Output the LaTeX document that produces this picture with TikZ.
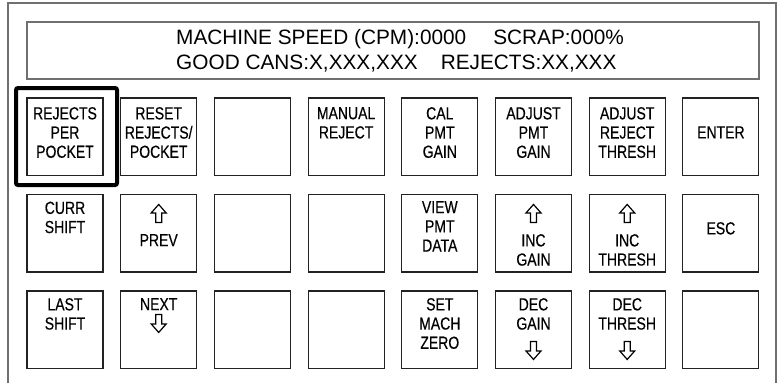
\documentclass[tikz,border=0pt]{standalone}
\usepackage{fontspec}
\setmainfont{Liberation Sans}
\newfontfamily\narrowfont[FakeStretch=0.8,FakeBold=0.35]{Liberation Sans}
\definecolor{framegray}{HTML}{707070}
\definecolor{btnline}{HTML}{222222}
\tikzset{
  framesty/.style={draw=framegray, line width=1.3pt},
  btn/.style={draw=btnline, line width=1.1pt, minimum width=76pt, minimum height=77.5pt, inner sep=0pt, fill=white},
  lbl/.style={font=\narrowfont\fontsize{17.5}{19.2}\selectfont, align=center, inner sep=0pt, anchor=north, text=black},
  dispbox/.style={draw=framegray, line width=1.3pt, minimum width=732pt, minimum height=57pt, inner sep=0pt},
  disptext/.style={font=\fontsize{20.8}{25}\selectfont, align=left, inner sep=0pt, text=black, anchor=west},
  selbox/.style={draw=black, line width=4pt, rounded corners=2pt},
  arrowsty/.style={draw=black, line width=1.2pt, fill=white, line join=miter},
  uparr/.pic={\path[arrowsty] (0pt,9pt) -- (7.5pt,0.5pt) -- (3pt,0.5pt) -- (3pt,-9pt) -- (-3pt,-9pt) -- (-3pt,0.5pt) -- (-7.5pt,0.5pt) -- cycle;},
  downarr/.pic={\path[arrowsty] (0pt,-9pt) -- (7.5pt,-0.5pt) -- (3pt,-0.5pt) -- (3pt,9pt) -- (-3pt,9pt) -- (-3pt,-0.5pt) -- (-7.5pt,-0.5pt) -- cycle;}
}
\begin{document}
\begin{tikzpicture}[x=1pt,y=-1pt]
\useasboundingbox (0,0) rectangle (778,383);
\fill[white] (0,0) rectangle (778,383);
% outer frame (open at bottom)
\draw[framesty] (8,383) -- (8,3) -- (776,3) -- (776,383);
% display
\node[dispbox] (disp) at (393,50.5) {};
\node[disptext] (dtext) at (176,50.5) {MACHINE SPEED (CPM):0000\hspace{27pt}SCRAP:000\%\\GOOD CANS:X,XXX,XXX\hspace{23pt}REJECTS:XX,XXX};
% selection frame
\draw[selbox] (16,88) rectangle (117,185);
% buttons
\foreach \r/\ry in {1/98,2/194.5,3/291}{
  \foreach \c in {1,...,8}{
    \node[btn] (b\r\c) at ({27+93.7*(\c-1)+38},{\ry+38.75}) {};
  }
}
% row 1
\node[lbl] (t11) at ([yshift=-9.5pt]b11.north) {REJECTS\\PER\\POCKET};
\node[lbl] (t12) at ([yshift=-9.5pt]b12.north) {RESET\\REJECTS/\\POCKET};
\node[lbl] (t14) at ([yshift=-9.5pt]b14.north) {MANUAL\\REJECT};
\node[lbl] (t15) at ([yshift=-9.5pt]b15.north) {CAL\\PMT\\GAIN};
\node[lbl] (t16) at ([yshift=-9.5pt]b16.north) {ADJUST\\PMT\\GAIN};
\node[lbl] (t17) at ([yshift=-9.5pt]b17.north) {ADJUST\\REJECT\\THRESH};
\node[lbl] (t18) at ([yshift=-28.7pt]b18.north) {ENTER};
% row 2
\node[lbl] (t21) at ([yshift=-7.5pt]b21.north) {CURR\\SHIFT};
\pic at ([yshift=-19.5pt]b22.north) {uparr};
\node[lbl] (t22) at ([yshift=-40pt]b22.north) {PREV};
\node[lbl] (t25) at ([yshift=-7pt]b25.north) {VIEW\\PMT\\DATA};
\pic at ([yshift=-19.5pt]b26.north) {uparr};
\node[lbl] (t26) at ([yshift=-40pt]b26.north) {INC\\GAIN};
\pic at ([yshift=-19.5pt]b27.north) {uparr};
\node[lbl] (t27) at ([yshift=-40pt]b27.north) {INC\\THRESH};
\node[lbl] (t28) at ([yshift=-28pt]b28.north) {ESC};
% row 3
\node[lbl] (t31) at ([yshift=-7.5pt]b31.north) {LAST\\SHIFT};
\node[lbl] (t32) at ([yshift=-7.5pt]b32.north) {NEXT};
\pic at ([yshift=-33pt]b32.north) {downarr};
\node[lbl] (t35) at ([yshift=-7.5pt]b35.north) {SET\\MACH\\ZERO};
\node[lbl] (t36) at ([yshift=-7.5pt]b36.north) {DEC\\GAIN};
\pic at ([yshift=-60pt]b36.north) {downarr};
\node[lbl] (t37) at ([yshift=-7.5pt]b37.north) {DEC\\THRESH};
\pic at ([yshift=-60pt]b37.north) {downarr};
\end{tikzpicture}
\end{document}
